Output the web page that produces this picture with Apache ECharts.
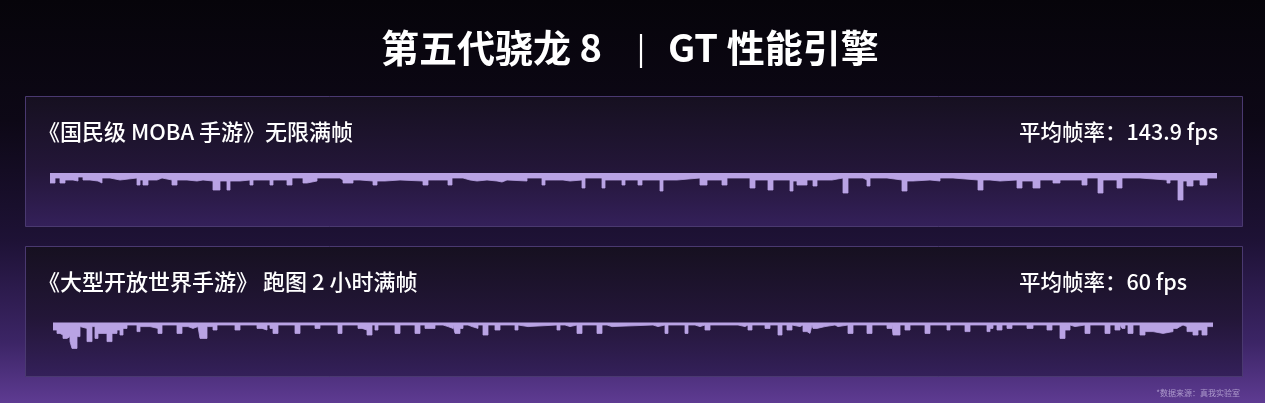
<!DOCTYPE html>
<html>
<head>
<meta charset="utf-8">
<script src="https://cdn.jsdelivr.net/npm/echarts@6/dist/echarts.min.js"></script>
<style>
html,body{margin:0;padding:0;background:#07050c;}
#c{width:1265px;height:403px;}
</style>
</head>
<body>
<div id="c"></div>
<script>
// ---- Data ----
const mainTitleLeft = '第五代骁龙 8';
const mainTitleRight = 'GT 性能引擎';
const panelTitles = ['《国民级 MOBA 手游》无限满帧', '《大型开放世界手游》 跑图 2 小时满帧'];
const panelAvg = ['平均帧率：143.9 fps', '平均帧率：60 fps'];
const footnote = '*数据来源：真我实验室';

// Game 1: sample index where a frame-rate level starts, and the level (fps)
const t1 = [0,5,10,15,23,28,33,40,48,52,60,70,87,90,93,98,107,112,122,127,137,147,153,163,170,177,180,190,200,203,220,223,237,242,253,257,267,290,293,303,310,323,327,335,350,373,378,
  398,402,413,420,427,437,447,452,457,477,492,495,513,520,532,535,552,555,572,575,588,592,610,613,627,650,657,672,677,700,705,718,723,740,743,747,757,763,767,
  777,782,793,798,813,817,820,837,852,857,863,880,890,903,928,933,940,950,967,972,983,990,1003,1010,1032,1037,1048,1053,1067,1072,1090,1117,1120,1128,1133,1137,1143,1150,1157,1167];
const fps1 = [138,143,138,141,140,144,141,140,138,143,141,143,136,141,136,141,143,141,136,141,140,141,140,131,140,131,140,141,136,141,136,141,136,143,138,140,143,141,138,141,140,136,140,141,140,136,141,
  136,143,141,140,141,140,139,141,140,143,136,141,140,141,133,143,133,141,136,141,136,141,130,141,143,136,141,136,143,133,141,131,141,130,140,136,141,135,141,
  141,143,128,143,141,135,143,141,130,140,141,140,143,141,131,141,140,141,133,140,133,141,138,141,136,143,128,141,133,143,141,138,141,121,140,135,141,136,143,143];

// Game 2: sample index (2-hour session) and fps level
const t2 = [0,4,7,10,14,17,19,24,27,29,34,39,42,45,54,59,64,67,70,74,84,87,97,105,109,124,129,135,140,145,147,154,160,164,182,187,204,209,214,217,220,225,242,247,262,267,285,289,305,309,314,319,322,325,342,347,362,367,372,375,377,382,
  390,395,397,400,402,407,410,415,419,420,425,430,435,442,447,462,465,467,475,504,507,512,517,524,529,544,549,554,559,600,605,612,615,632,635,642,647,652,657,685,692,695,699,712,717,725,729,734,739,740,747,750,754,757,759,760,764,772,
  782,785,795,800,814,819,834,839,840,847,852,857,872,877,894,897,912,917,934,937,940,944,949,954,959,974,980,994,999,1007,1012,1017,1019,1022,1032,1037,1052,1057,1062,1067,1069,1072,1075,1080,1087,1092,1100,1110,1120,1124,1127,1130,1134,1140,1145,1149,1154,1160];
const fps2 = [57.5,55.8,55,53.3,54.2,51.7,48.3,54.2,59.2,58.3,51.7,59.2,53.3,55.8,51.7,55.8,57.5,55,58.3,60,56.7,59.2,58.3,55.8,60,55.8,59.2,58.3,59.2,60,53.3,59.2,57.5,60,57.5,60,58.3,57.5,60,58.3,55.8,60,55.8,60,58.3,60,55.8,60,58.3,57.5,55,60,57.5,60,55.8,60,55.8,60,58.3,59.2,58.3,60,
  59.2,60,58.3,60,55.8,58.3,60,59.2,60,58.3,60,55,60,57.5,60,57.5,60,59.2,60,57.5,60,59.2,60,55.8,60,55.8,60,59.2,60,59.2,60,55.8,60,55.8,60,59.2,60,57.5,60,59.2,60,57.5,60,58.3,60,55,60,57.5,60,59.2,60,56.7,55.8,56.7,60,58.3,59.2,60,
  59.2,60,55.8,60,55.8,60,58.3,60,55,60,57.5,60,55.8,60,57.5,60,56.7,60,56.7,58.3,60,57.5,60,58.3,60,58.3,60,57.5,60,53.3,57.5,60,59.2,60,55.8,60,55.8,60,57.5,60,58.3,60,55.8,60,55,56.7,55.8,56.7,58.3,59.2,60,59.2,56.7,55,57.5,55,59.2,59.2];

function pairs(t, v){ return t.map((x,i)=>[x, v[i]]); }

const chart = echarts.init(document.getElementById('c'), null, {renderer:'canvas'});
const FONT = '"Noto Sans CJK SC", "Noto Sans", sans-serif';
const fill = '#b9a3e4';

function panel(y){
  return {
    type:'rect', shape:{x:25.5, y:y+0.5, width:1217, height:130},
    style:{
      fill:new echarts.graphic.LinearGradient(0,0,0,1,[
        {offset:0,color:'#161020'},{offset:0.55,color:'#231638'},{offset:1,color:'#34205a'}]),
      stroke:'#4a3970', lineWidth:1
    }, z:0
  };
}

chart.setOption({
  animation:false,
  graphic:[
    {type:'rect', shape:{x:0,y:0,width:1265,height:403},
     style:{fill:new echarts.graphic.LinearGradient(0,0,0,1,[
       {offset:0,color:'#06040a'},{offset:0.3,color:'#0d0816'},{offset:0.6,color:'#1e1236'},{offset:0.85,color:'#3c2566'},{offset:1,color:'#5e3b92'}])}, z:-10},
    panel(96), panel(246),
    {type:'line', shape:{x1:641,y1:34,x2:641,y2:68}, style:{stroke:'#ffffff', lineWidth:2.2}, z:1},
    {type:'text', x:602, y:48, style:{text:mainTitleLeft, fill:'#fff', font:'bold 38px '+FONT, textAlign:'right', textVerticalAlign:'middle'}, z:1},
    {type:'text', x:668, y:48, style:{text:mainTitleRight, fill:'#fff', font:'bold 38px '+FONT, textAlign:'left', textVerticalAlign:'middle'}, z:1},
    {type:'text', x:38, y:132, style:{text:panelTitles[0], fill:'#fff', font:'500 22px '+FONT, textAlign:'left', textVerticalAlign:'middle'}, z:1},
    {type:'text', x:1019, y:132, style:{text:panelAvg[0], fill:'#fff', font:'500 21.5px '+FONT, textAlign:'left', textVerticalAlign:'middle'}, z:1},
    {type:'text', x:38, y:282, style:{text:panelTitles[1], fill:'#fff', font:'500 22px '+FONT, textAlign:'left', textVerticalAlign:'middle'}, z:1},
    {type:'text', x:1019, y:282, style:{text:panelAvg[1], fill:'#fff', font:'500 21.5px '+FONT, textAlign:'left', textVerticalAlign:'middle'}, z:1},
    {type:'text', x:1240, y:393, style:{text:footnote, fill:'rgba(200,185,225,0.75)', font:'8px '+FONT, textAlign:'right', textVerticalAlign:'middle'}, z:1}
  ],
  grid:[
    {left:50, top:173, width:1167, height:48},
    {left:53, top:322.5, width:1160, height:42.5}
  ],
  xAxis:[
    {type:'value', gridIndex:0, min:0, max:1167, show:false},
    {type:'value', gridIndex:1, min:0, max:1160, show:false}
  ],
  yAxis:[
    {type:'value', gridIndex:0, min:100, max:148, show:false},
    {type:'value', gridIndex:1, min:40, max:61.25, show:false}
  ],
  series:[
    {type:'line', xAxisIndex:0, yAxisIndex:0, step:'end', symbol:'none', silent:true,
     data:pairs(t1,fps1), lineStyle:{width:0.8,color:fill}, areaStyle:{origin:'end', color:fill, opacity:1}},
    {type:'line', xAxisIndex:1, yAxisIndex:1, step:'end', symbol:'none', silent:true,
     data:pairs(t2,fps2), lineStyle:{width:0.8,color:fill}, areaStyle:{origin:'end', color:fill, opacity:1}}
  ]
});
</script>
</body>
</html>
